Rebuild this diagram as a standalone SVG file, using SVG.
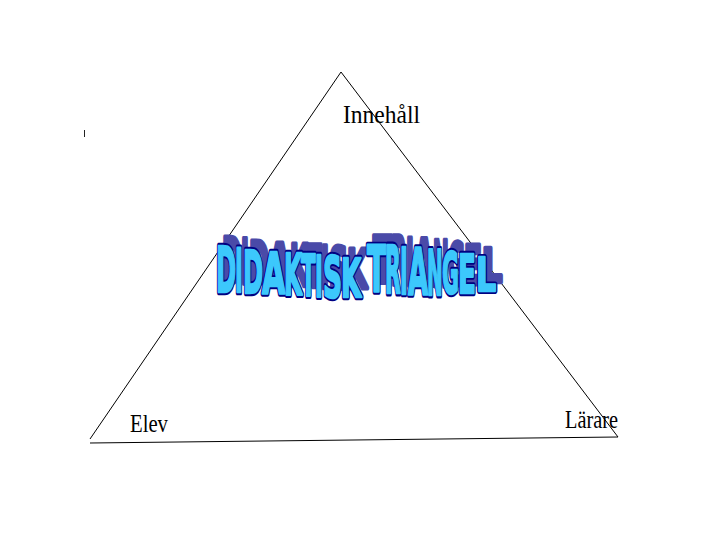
<svg xmlns="http://www.w3.org/2000/svg" xmlns:xlink="http://www.w3.org/1999/xlink" width="720" height="540" viewBox="0 0 720 540">
  <style>
    .lbl { font-family: "Liberation Serif", "Times New Roman", serif; font-size: 25px; fill: #000; }
    .edge { stroke: #000; stroke-width: 1; fill: none; }
    .wa { font-family: "DejaVu Sans", "Liberation Sans", sans-serif; font-weight: bold; font-size: 100px; vector-effect: non-scaling-stroke; stroke-linejoin: round; }
  </style>
  <defs>
    <g id="word">
      <text class="wa" transform="translate(216,292) scale(0.243,0.617)">D</text>
      <text class="wa" transform="translate(235,292) scale(0.21,0.604)">I</text>
      <text class="wa" transform="translate(243,293) scale(0.243,0.590)">D</text>
      <text class="wa" transform="translate(262,294) scale(0.30,0.576)">A</text>
      <text class="wa" transform="translate(284,295) scale(0.231,0.562)">K</text>
      <text class="wa" transform="translate(301,296) scale(0.213,0.562)">T</text>
      <text class="wa" transform="translate(315,297) scale(0.21,0.562)">I</text>
      <text class="wa" transform="translate(323,298) scale(0.264,0.576)">S</text>
      <text class="wa" transform="translate(341,297) scale(0.26,0.535)">K</text>
      <text class="wa" transform="translate(367,292) scale(0.279,0.645)">T</text>
      <text class="wa" transform="translate(385,293) scale(0.204,0.658)">R</text>
      <text class="wa" transform="translate(400,294) scale(0.21,0.645)">I</text>
      <text class="wa" transform="translate(408,295) scale(0.26,0.645)">A</text>
      <text class="wa" transform="translate(427,295) scale(0.187,0.617)">N</text>
      <text class="wa" transform="translate(442,294) scale(0.205,0.576)">G</text>
      <text class="wa" transform="translate(458,293) scale(0.262,0.535)">E</text>
      <text class="wa" transform="translate(476,291) scale(0.316,0.453)">L</text>
    </g>
  </defs>

  <g id="connectors">
    <line class="edge" x1="341" y1="72" x2="90" y2="439"/>
    <line class="edge" x1="341" y1="72" x2="618" y2="437"/>
    <line class="edge" x1="90" y1="443" x2="618" y2="437"/>
  </g>

  <g id="title">
    <use xlink:href="#word" transform="translate(6,-9)" fill="#4a4aa8" stroke="#4a4aa8" stroke-width="4"/>
    <use xlink:href="#word" fill="#000080" stroke="#000080" stroke-width="5"/>
    <use xlink:href="#word" fill="#3cc8fc" stroke="#3cc8fc" stroke-width="2"/>
  </g>

  <g id="node-innehall">
    <text class="lbl" x="343" y="123" textLength="77" lengthAdjust="spacingAndGlyphs">Innehåll</text>
  </g>
  <g id="node-elev">
    <text class="lbl" x="130" y="432" textLength="38" lengthAdjust="spacingAndGlyphs">Elev</text>
  </g>
  <g id="node-larare">
    <text class="lbl" x="565" y="428" textLength="53" lengthAdjust="spacingAndGlyphs">Lärare</text>
  </g>

  <g id="mark">
    <line x1="84.5" y1="130" x2="84.5" y2="137" stroke="#222" stroke-width="1"/>
  </g>
</svg>
